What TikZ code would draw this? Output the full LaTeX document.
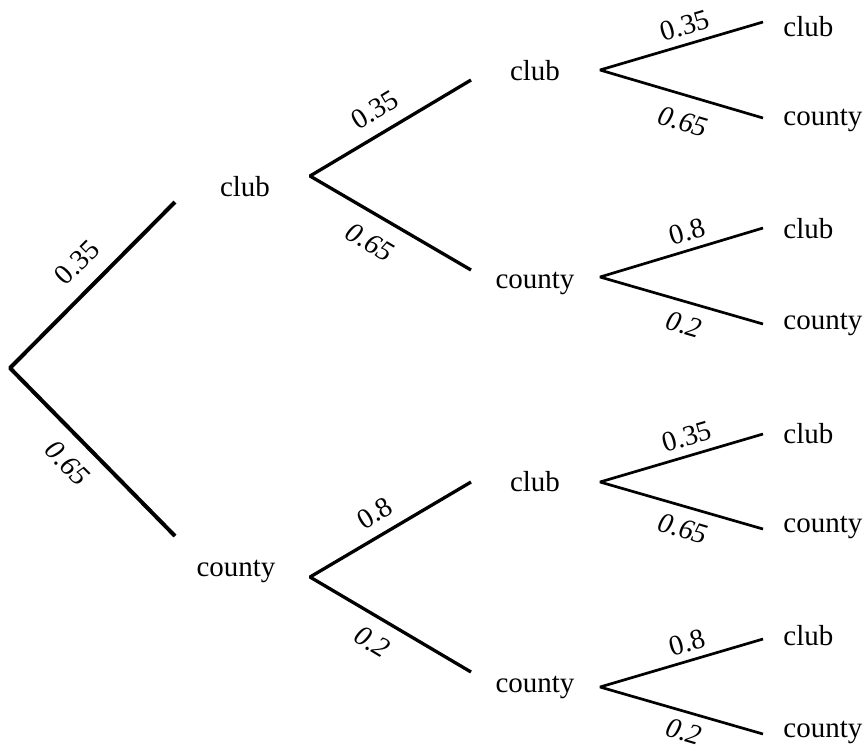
\documentclass[tikz,border=0pt]{standalone}
\usepackage{fontspec}
\setmainfont{Liberation Serif}
\begin{document}
\begin{tikzpicture}[x=0.5pt,y=-0.5pt,
  up/.style={font=\fontsize{14.2}{17}\selectfont, inner sep=0pt},
  dn/.style={font=\fontsize{14.2}{17}\selectfont\itshape, inner sep=0pt},
  word/.style={font=\fontsize{14.5}{17}\selectfont, inner sep=0pt},
  e0/.style={line width=2pt, line join=bevel},
  e1/.style={line width=1.65pt, line join=bevel},
  e2/.style={line width=1.35pt, line join=bevel}]
\useasboundingbox (0,0) rectangle (865,751);
% branch points
\coordinate (root) at (10,368);
\coordinate (r1) at (175,202);
\coordinate (r2) at (175,536);
\coordinate (v1) at (310,176);
\coordinate (v1a) at (471,80);
\coordinate (v1b) at (471,270);
\coordinate (v2) at (310,577);
\coordinate (v2a) at (471,482);
\coordinate (v2b) at (471,672);
\coordinate (w1) at (600,70);
\coordinate (w1a) at (763,22);
\coordinate (w1b) at (763,118);
\coordinate (w2) at (600,277);
\coordinate (w2a) at (763,228);
\coordinate (w2b) at (763,324);
\coordinate (w3) at (600,482);
\coordinate (w3a) at (763,434);
\coordinate (w3b) at (763,529);
\coordinate (w4) at (600,687);
\coordinate (w4a) at (763,639);
\coordinate (w4b) at (763,734);
% branches
\draw[e0] (r1) -- (root) -- (r2);
\draw[e1] (v1a) -- (v1) -- (v1b);
\draw[e1] (v2a) -- (v2) -- (v2b);
\draw[e2] (w1a) -- (w1) -- (w1b);
\draw[e2] (w2a) -- (w2) -- (w2b);
\draw[e2] (w3a) -- (w3) -- (w3b);
\draw[e2] (w4a) -- (w4) -- (w4b);
% outcome words
\node[word, anchor=base] (n1) at (245,196) {club};
\node[word, anchor=base] (n2) at (236,576) {county};
\node[word, anchor=base] (n11) at (535,80) {club};
\node[word, anchor=base] (n12) at (535,288) {county};
\node[word, anchor=base] (n21) at (535,491) {club};
\node[word, anchor=base] (n22) at (535,692) {county};
\node[word, anchor=base west] (t1) at (783,36) {club};
\node[word, anchor=base west] (t2) at (783,125) {county};
\node[word, anchor=base west] (t3) at (783,238) {club};
\node[word, anchor=base west] (t4) at (783,329) {county};
\node[word, anchor=base west] (t5) at (783,443) {club};
\node[word, anchor=base west] (t6) at (783,532) {county};
\node[word, anchor=base west] (t7) at (783,645) {club};
\node[word, anchor=base west] (t8) at (783,737) {county};
% probabilities
\node[up, rotate=45] (p1) at (77,262) {0.35};
\node[dn, rotate=-45] (p2) at (68,463) {0.65};
\node[up, rotate=31] (p11) at (375,110) {0.35};
\node[dn, rotate=-31] (p12) at (370,242) {0.65};
\node[up, rotate=31] (p21) at (375,513) {0.8};
\node[dn, rotate=-31] (p22) at (372,642) {0.2};
\node[up, rotate=16.4] (q1) at (685,26) {0.35};
\node[dn, rotate=-16.4] (q2) at (683,122) {0.65};
\node[up, rotate=16.4] (q3) at (687,232) {0.8};
\node[dn, rotate=-16.4] (q4) at (684,325) {0.2};
\node[up, rotate=16.4] (q5) at (687,437) {0.35};
\node[dn, rotate=-16.4] (q6) at (683,529) {0.65};
\node[up, rotate=16.4] (q7) at (687,643) {0.8};
\node[dn, rotate=-16.4] (q8) at (684,732) {0.2};
\end{tikzpicture}
\end{document}
